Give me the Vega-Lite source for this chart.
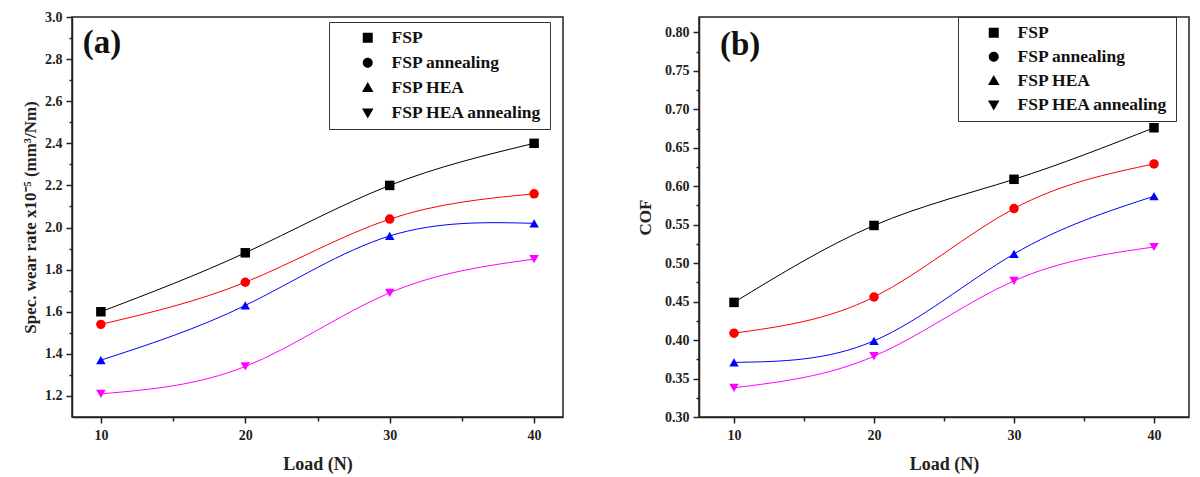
{
  "$schema": "https://vega.github.io/schema/vega-lite/v6.json",
  "background": "white",
  "padding": {"left": 20, "top": 9, "right": 5, "bottom": 5},
  "config": {
    "font": "Liberation Serif",
    "view": {"stroke": "#222", "strokeWidth": 1.5},
    "axis": {
      "labelFont": "Liberation Serif", "labelFontWeight": "bold", "labelFontSize": 14, "labelColor": "#222",
      "titleFont": "Liberation Serif", "titleFontWeight": "bold", "titleFontSize": 17, "titleColor": "#222",
      "domainColor": "#222", "domainWidth": 1.5, "tickColor": "#222", "tickWidth": 1.5,
      "grid": false, "labelFlush": false
    },
    "legend": {
      "labelFont": "Liberation Serif", "labelFontWeight": "bold", "labelFontSize": 17.5, "labelColor": "#111"
    }
  },
  "datasets": {
    "wear": [
      {"series": "FSP", "load": 10, "value": 1.60},
      {"series": "FSP", "load": 20, "value": 1.88},
      {"series": "FSP", "load": 30, "value": 2.20},
      {"series": "FSP", "load": 40, "value": 2.40},
      {"series": "FSP annealing", "load": 10, "value": 1.54},
      {"series": "FSP annealing", "load": 20, "value": 1.74},
      {"series": "FSP annealing", "load": 30, "value": 2.04},
      {"series": "FSP annealing", "load": 40, "value": 2.16},
      {"series": "FSP HEA", "load": 10, "value": 1.37},
      {"series": "FSP HEA", "load": 20, "value": 1.63},
      {"series": "FSP HEA", "load": 30, "value": 1.96},
      {"series": "FSP HEA", "load": 40, "value": 2.02},
      {"series": "FSP HEA annealing", "load": 10, "value": 1.21},
      {"series": "FSP HEA annealing", "load": 20, "value": 1.34},
      {"series": "FSP HEA annealing", "load": 30, "value": 1.69},
      {"series": "FSP HEA annealing", "load": 40, "value": 1.85}
    ],
    "cof": [
      {"series": "FSP", "load": 10, "value": 0.449},
      {"series": "FSP", "load": 20, "value": 0.549},
      {"series": "FSP", "load": 30, "value": 0.609},
      {"series": "FSP", "load": 40, "value": 0.676},
      {"series": "FSP annealing", "load": 10, "value": 0.409},
      {"series": "FSP annealing", "load": 20, "value": 0.456},
      {"series": "FSP annealing", "load": 30, "value": 0.571},
      {"series": "FSP annealing", "load": 40, "value": 0.629},
      {"series": "FSP HEA", "load": 10, "value": 0.371},
      {"series": "FSP HEA", "load": 20, "value": 0.399},
      {"series": "FSP HEA", "load": 30, "value": 0.512},
      {"series": "FSP HEA", "load": 40, "value": 0.587},
      {"series": "FSP HEA annealing", "load": 10, "value": 0.338},
      {"series": "FSP HEA annealing", "load": 20, "value": 0.379},
      {"series": "FSP HEA annealing", "load": 30, "value": 0.477},
      {"series": "FSP HEA annealing", "load": 40, "value": 0.521}
    ]
  },
  "spacing": 71,
  "hconcat": [
    {
      "width": 491, "height": 400,
      "layer": [
        {
          "data": {"name": "wear"},
          "mark": {"type": "line", "interpolate": "natural", "strokeWidth": 1},
          "encoding": {
            "x": {"field": "load", "type": "quantitative", "scale": {"domain": [8, 42], "nice": false},
              "axis": {"title": "Load (N)", "titleFontSize": 18, "values": [10, 15, 20, 25, 30, 35, 40], "labelExpr": "datum.value % 10 === 0 ? datum.value : ''",
                "tickSize": {"condition": {"test": "datum.value % 10 === 0", "value": 6}, "value": 4}, "labelPadding": 5, "titlePadding": 13}},
            "y": {"field": "value", "type": "quantitative", "scale": {"domain": [1.1, 3.0], "nice": false, "zero": false},
              "axis": {"title": "Spec. wear rate x10⁻⁵ (mm³/Nm)", "values": [1.2, 1.4, 1.6, 1.8, 2.0, 2.2, 2.4, 2.6, 2.8, 3.0], "format": ".1f",
                "tickSize": 6, "labelPadding": 4, "titlePadding": 5}},
            "color": {"field": "series", "type": "nominal", "scale": {"domain": ["FSP", "FSP annealing", "FSP HEA", "FSP HEA annealing"], "range": ["#000000", "#ff0000", "#0000ff", "#ff00ff"]}, "legend": null}
          }
        },
        {
          "data": {"name": "wear"},
          "mark": {"type": "point", "filled": true, "size": 90, "opacity": 1},
          "encoding": {
            "x": {"field": "load", "type": "quantitative"},
            "y": {"field": "value", "type": "quantitative",
              "axis": {"orient": "left", "title": null, "values": [1.3, 1.5, 1.7, 1.9, 2.1, 2.3, 2.5, 2.7, 2.9], "labels": false, "domain": false, "tickSize": 3}},
            "color": {"field": "series", "type": "nominal", "legend": null},
            "shape": {"field": "series", "type": "nominal", "scale": {"domain": ["FSP", "FSP annealing", "FSP HEA", "FSP HEA annealing"], "range": ["square", "circle", "triangle-up", "triangle-down"]}, "legend": null}
          }
        },
        {
          "data": {"name": "wear"},
          "mark": {"type": "point", "filled": true, "opacity": 0},
          "encoding": {
            "x": {"field": "load", "type": "quantitative"},
            "y": {"field": "value", "type": "quantitative", "axis": null},
            "fill": {"field": "series", "type": "nominal", "scale": {"domain": ["FSP", "FSP annealing", "FSP HEA", "FSP HEA annealing"], "range": ["#000000", "#ff0000", "#0000ff", "#ff00ff"]},
              "legend": {"title": null, "orient": "none", "legendX": 257, "legendY": 5, "strokeColor": "#333", "fillColor": "white", "padding": 7,
                "symbolSize": 100, "symbolStrokeWidth": 1, "symbolOpacity": 1, "rowPadding": 6, "symbolOffset": 23, "labelOffset": 15}},
            "stroke": {"field": "series", "type": "nominal", "scale": {"domain": ["FSP", "FSP annealing", "FSP HEA", "FSP HEA annealing"], "range": ["#000000", "#ff0000", "#0000ff", "#ff00ff"]},
              "legend": {"title": null, "orient": "none", "legendX": 257, "legendY": 5, "strokeColor": "#333", "fillColor": "white", "padding": 7,
                "symbolSize": 100, "symbolStrokeWidth": 1, "symbolOpacity": 1, "rowPadding": 6, "symbolOffset": 23, "labelOffset": 15}},
            "shape": {"field": "series", "type": "nominal", "scale": {"domain": ["FSP", "FSP annealing", "FSP HEA", "FSP HEA annealing"],
                "range": ["M-4,0H4M-1,-1H1V1H-1Z", "M-4,0H4M1,0A1,1,0,1,1,-1,0A1,1,0,1,1,1,0Z", "M-4,0H4M0,-1.15L1.15,0.85L-1.15,0.85Z", "M-4,0H4M0,1.15L1.15,-0.85L-1.15,-0.85Z"]},
              "legend": {"title": null, "orient": "none", "legendX": 257, "legendY": 5, "strokeColor": "#333", "fillColor": "white", "padding": 7,
                "symbolSize": 100, "symbolStrokeWidth": 1, "symbolOpacity": 1, "rowPadding": 6, "symbolOffset": 23, "labelOffset": 15}}
          }
        },
        {
          "data": {"values": [{"label": "(a)", "load": 8.75, "value": 2.875}]},
          "mark": {"type": "text", "font": "Liberation Serif", "fontWeight": "bold", "fontSize": 33, "align": "left", "baseline": "middle", "color": "#111"},
          "encoding": {
            "x": {"field": "load", "type": "quantitative"},
            "y": {"field": "value", "type": "quantitative", "axis": null},
            "text": {"field": "label"}
          }
        }
      ],
      "resolve": {"axis": {"y": "independent"}, "scale": {"shape": "independent"}}
    },
    {
      "width": 490, "height": 400,
      "layer": [
        {
          "data": {"name": "cof"},
          "mark": {"type": "line", "interpolate": "natural", "strokeWidth": 1},
          "encoding": {
            "x": {"field": "load", "type": "quantitative", "scale": {"domain": [7.5, 42.5], "nice": false},
              "axis": {"title": "Load (N)", "titleFontSize": 18, "values": [10, 15, 20, 25, 30, 35, 40], "labelExpr": "datum.value % 10 === 0 ? datum.value : ''",
                "tickSize": {"condition": {"test": "datum.value % 10 === 0", "value": 6}, "value": 4}, "labelPadding": 5, "titlePadding": 13}},
            "y": {"field": "value", "type": "quantitative", "scale": {"domain": [0.3, 0.82], "nice": false, "zero": false},
              "axis": {"title": "COF", "values": [0.3, 0.35, 0.4, 0.45, 0.5, 0.55, 0.6, 0.65, 0.7, 0.75, 0.8], "format": ".2f",
                "tickSize": 6, "labelPadding": 4, "titlePadding": 10}},
            "color": {"field": "series", "type": "nominal", "scale": {"domain": ["FSP", "FSP annealing", "FSP HEA", "FSP HEA annealing"], "range": ["#000000", "#ff0000", "#0000ff", "#ff00ff"]}, "legend": null}
          }
        },
        {
          "data": {"name": "cof"},
          "mark": {"type": "point", "filled": true, "size": 90, "opacity": 1},
          "encoding": {
            "x": {"field": "load", "type": "quantitative"},
            "y": {"field": "value", "type": "quantitative",
              "axis": {"orient": "left", "title": null, "values": [0.325, 0.375, 0.425, 0.475, 0.525, 0.575, 0.625, 0.675, 0.725, 0.775], "labels": false, "domain": false, "tickSize": 3}},
            "color": {"field": "series", "type": "nominal", "legend": null},
            "shape": {"field": "series", "type": "nominal", "scale": {"domain": ["FSP", "FSP annealing", "FSP HEA", "FSP HEA annealing"], "range": ["square", "circle", "triangle-up", "triangle-down"]}, "legend": null}
          }
        },
        {
          "data": {"name": "cof"},
          "mark": {"type": "point", "filled": true, "opacity": 0},
          "encoding": {
            "x": {"field": "load", "type": "quantitative"},
            "y": {"field": "value", "type": "quantitative", "axis": null},
            "fill": {"field": "series", "type": "nominal", "scale": {"domain": ["FSP", "FSP annealing", "FSP HEA", "FSP HEA annealing"], "range": ["#000000", "#ff0000", "#0000ff", "#ff00ff"]},
              "legend": {"title": null, "orient": "none", "legendX": 259, "legendY": 0, "strokeColor": "#333", "fillColor": "white", "padding": 7,
                "symbolSize": 100, "symbolStrokeWidth": 1, "symbolOpacity": 1, "rowPadding": 5, "symbolOffset": 20, "labelOffset": 15}},
            "stroke": {"field": "series", "type": "nominal", "scale": {"domain": ["FSP", "FSP annealing", "FSP HEA", "FSP HEA annealing"], "range": ["#000000", "#ff0000", "#0000ff", "#ff00ff"]},
              "legend": {"title": null, "orient": "none", "legendX": 259, "legendY": 0, "strokeColor": "#333", "fillColor": "white", "padding": 7,
                "symbolSize": 100, "symbolStrokeWidth": 1, "symbolOpacity": 1, "rowPadding": 5, "symbolOffset": 20, "labelOffset": 15}},
            "shape": {"field": "series", "type": "nominal", "scale": {"domain": ["FSP", "FSP annealing", "FSP HEA", "FSP HEA annealing"],
                "range": ["M-4,0H4M-1,-1H1V1H-1Z", "M-4,0H4M1,0A1,1,0,1,1,-1,0A1,1,0,1,1,1,0Z", "M-4,0H4M0,-1.15L1.15,0.85L-1.15,0.85Z", "M-4,0H4M0,1.15L1.15,-0.85L-1.15,-0.85Z"]},
              "legend": {"title": null, "orient": "none", "legendX": 259, "legendY": 0, "strokeColor": "#333", "fillColor": "white", "padding": 7,
                "symbolSize": 100, "symbolStrokeWidth": 1, "symbolOpacity": 1, "rowPadding": 5, "symbolOffset": 20, "labelOffset": 15}}
          }
        },
        {
          "data": {"values": [{"label": "(b)", "load": 9.0, "value": 0.783}]},
          "mark": {"type": "text", "font": "Liberation Serif", "fontWeight": "bold", "fontSize": 33, "align": "left", "baseline": "middle", "color": "#111"},
          "encoding": {
            "x": {"field": "load", "type": "quantitative"},
            "y": {"field": "value", "type": "quantitative", "axis": null},
            "text": {"field": "label"}
          }
        }
      ],
      "resolve": {"axis": {"y": "independent"}, "scale": {"shape": "independent"}}
    }
  ]
}
